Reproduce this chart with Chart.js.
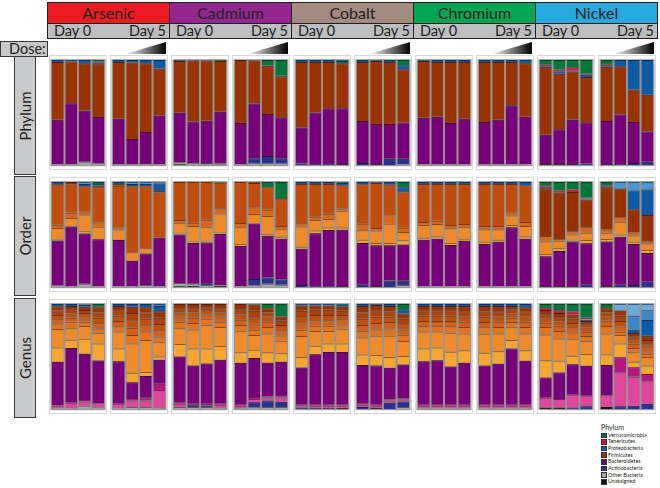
<!DOCTYPE html>
<html>
<head>
<meta charset="utf-8">
<script src="https://cdn.jsdelivr.net/npm/chart.js@4.4.0/dist/chart.umd.min.js"></script>
<style>
body { margin:0; background:#fff; width:660px; height:488px; overflow:hidden; position:relative; font-family: Lato, "Open Sans", sans-serif; color:#231f20; }
.abs { position:absolute; box-sizing:border-box; }
.metal { top:2px; height:22px; border:1px solid #231f20; text-align:center; font-size:16px; line-height:20px; }
.day { top:23px; height:16px; border:1px solid #231f20; background:#bcbec0; font-size:14.5px; line-height:14px; padding:0 3px 0 6px; }
.day span.r { float:right; }
.lab { background:#c8c9cb; border:1.5px solid #3a3a3a; }
.rot { position:absolute; left:50%; top:50%; transform:translate(-50%,-50%) rotate(-90deg); font-size:15px; white-space:nowrap; }
.panel { border:1px solid #d9d9d9; width:58px; height:115px; }
.panel canvas { position:absolute; left:0; top:0; }
.tri { top:42px; width:41px; height:12px; background:linear-gradient(to right,#ffffff,#000000); clip-path:polygon(0 100%,100% 0,100% 100%); }
.lgt { font-size:7px; line-height:8px; color:#231f20; white-space:nowrap; }
.lgs { width:5.5px; height:5.5px; border:0.6px solid #333; }
.lgx { font-size:5.4px; line-height:6.6px; height:6.6px; color:#231f20; white-space:nowrap; }
</style>
</head>
<body>
<script>
// ---- données (en %) ----
const metals = ['Arsenic', 'Cadmium', 'Cobalt', 'Chromium', 'Nickel'];
const metalColors = ['#ed1c24', '#92278f', '#a38b7f', '#00a651', '#27aae1'];
const days = ['Day 0', 'Day 5'];
const levels = ['Phylum', 'Order', 'Genus'];

// phylum, de bas en haut
const phylumTaxa = ['Unassigned', 'Other Bacteria', 'Actinobacteria', 'Bacteroidetes', 'Firmicutes', 'Proteobacteria', 'Tenericutes', 'Verrucomicrobia'];
const phylumColors = ['#141414', '#a7a7a7', '#2b3190', '#77007a', '#993300', '#0d5aa7', '#d6123e', '#00773a'];
// un bloc par panneau (As D0, As D5, Cd D0, ...), 4 échantillons chacun
const phylumValues = [
  [[0,1,0,42,55,2,0,0], [0,1,0,58,40,1.5,0,0], [0,3,0,49,45,3,0,0], [0,1.5,0,44,50,1.5,1,1.5]],
  [[0,1,0,43,54,2,0,0], [0,1,0,24,73,2.5,0,0], [0,1,0,30,65,3,0,0], [0,1,0,46,45,8,0,0]],
  [[0.7,2,0,47,49,1,0,0], [0,1.5,0,40,58,0.5,0,0], [0,1,1,40,57,0.5,0,0], [0.5,1,0,49,48,0,0,1]],
  [[0,1,0,39,60,0,0,0], [0,1.5,5,52,41,0.5,0,0], [0,1.5,7,40,46,0.5,0,5], [0,1.5,5,39,39,0.5,0,15]],
  [[0,0,1.5,34,62,2,0,0], [0,0,1,49,48,2,0,0], [0,0,1,53,44,2,0,0], [1,0,0,53,43,2,0,1]],
  [[0,0,2,40,56,2,0,0], [1,0,0,38,60,1,0,0], [0,0,6,33,59,2,0,0], [0,1,5,35,51,4,0,5]],
  [[0,1,0,44,54,1,0,0], [0,1,0,45,52,2,0,0], [0,1,0,39,58,2,0,0], [0,1,0,43,54,2,0,0]],
  [[0,1,0,40,57,2,0,0], [0,1,0,42,55,2,0,0], [0,1,0,56,41,2,0,0], [0,1,0,45,51,3,0,0]],
  [[1,0,0,28,65,1.5,1,4], [1,0,0,33,53,2,2,9], [1,0,0,42,46,1,3,7], [0,0,1.5,39,43,2,1,13]],
  [[1,0,0,41,52,1.5,1,4], [0,0,1,47,46,6,0,0], [0,0,2,39,31,28,0,0], [0,0,3,29,35,33,0,0]]
];

// ordre, de bas en haut
const orderTaxa = ['Unassigned', 'Other', 'Bifidobacteriales', 'Bacteroidales', 'Erysipelotrichales', 'Lactobacillales', 'Bacillales', 'Clostridiales', 'Clostridiales 2', 'Enterobacteriales', 'Burkholderiales', 'Mycoplasmatales', 'Verrucomicrobiales'];
const orderColors = ['#141414', '#a7a7a7', '#2b3190', '#77007a', '#f6a330', '#ef8a2a', '#d9661a', '#c04d0b', '#953200', '#0d5aa7', '#4d94d0', '#d6123e', '#00773a'];
const orderValues = [
  [[0,1.5,0,43,1,11,3,38,1,2,0,0,0], [0,1,0,57,0,8,5,27,2.5,0,0,0,0], [0,3,0,48,2,16,3,24,0,2,2,0,0], [0,1,0,45,0,12,4,34,1.5,1.5,0,0,2]],
  [[0,1,0,44,1,9,2,40,1.5,2,0,0,0], [0,1,0,24,0,8,0,63,0,2,2,0,0], [0,2,0,30,0,5,0,59,0,2,2,0,0], [0,1,0,46,0,0,0,43,1.5,7,1.5,0,0]],
  [[0.7,3,0,46,1.5,9,3,36,0,0,0,0,0], [1,2,0,39,1.5,15,3,39,0,0,0,0,0], [0,2,1.5,39,1.5,13,7,36,0,0,0,0,0], [1,1,0,48,1.5,18,5,24,0,0,0,0,0.7]],
  [[0,1,0,38,2,16,4,39,0,0,0,0,0], [0,1.5,6,52,0,9,6,23,1,0,0,0,0], [0,3,6,39,1.5,17,6,21,0,0,0,0,5], [0,2,5,38,2,7,3,25,1,0,0,0,15]],
  [[0,0,2,34,2,19,3,37,0,2,0,0,0], [0,0,1,50,2.5,10,3,31,0,2,0,0,0], [0,0,1,53,2.5,8,5,28,0,2,0,0,0], [1,0,0,53,2,16,2,22,0,2,0,0,1]],
  [[0,0,2,39,3,9,6,37,0,2,0,0,0], [1,0,0,39,2,12,2.5,43,0,1,0,0,0], [0,0,6,33,2,18,9,27,1,2,0,0,0], [0,2,4,35,4,8,4,34,1,4,0,0,5]],
  [[0,1,0,44,2,12,3,36,0,2,0,0,0], [0,1,0,45,2,12,3,35,0,2,0,0,0], [0,1,0,39,2,14,3,39,0,2,0,0,0], [0,1,0,43,2,11,3,38,0,2,0,0,0]],
  [[0,1,0,40,2,12,3,40,0,2,0,0,0], [0,1,0,42,2,10,3,40,0,2,0,0,0], [0,1,0,56,2,9,3,27,0,2,0,0,0], [0,1,0,45,2,10,4,35,0,3,0,0,0]],
  [[1,0,0,28,2,12,5,0,45,1.5,0,1.5,3], [1,0,0,33,2.5,7,1.5,0,44,0,0,2,8], [1,0,0,42,1.5,5,3,0,37,0,0,2.5,7], [0,0,2,39,3,7,5,0,26,0,2,0.5,14]],
  [[1,0,0,42,2.5,6,3,0,40,1,0,1,3], [0,0,2,45,2,12,4,0,27,0,6,0,0], [0,0,2,39,2,6,3,0,22,18,8,0,0], [0,0,5,27,3,6,2,0,25,24,7,0,0]]
];

// genre, de bas en haut
const genusTaxa = ['Unassigned', 'Other', 'Bifidobacterium', 'Parabacteroides', 'Alistipes', 'Bacteroides', 'Turicibacter', 'Lactobacillus', 'Streptococcus', 'Clostridium', 'Ruminococcus', 'Oscillospira', 'Coprococcus', 'Escherichia', 'Sutterella', 'Parasutterella', 'Mycoplasma', 'Akkermansia'];
const genusColors = ['#141414', '#a7a7a7', '#2b3190', '#de479b', '#b3177f', '#77007a', '#f8a631', '#ef8b2a', '#e2731f', '#d2601a', '#c2500d', '#ad4108', '#963302', '#0d5aa7', '#3c87c7', '#6eaada', '#d6123e', '#00773a'];
const genusValues = [
  [[0,1,0,2,0.5,40,13,17,5,4,4,4,4,2,0,0,0,0], [0,1,0,5,0,52,8,11,6,4,4,4,3,2,0,0,0,0], [0,3,0,4,1.5,43,14,12,4,4,4,3,3,1.5,1,0,0,0], [0,1.5,0,4,0,40,16,10,4,5,5,5,5,1,0,0,0,2]],
  [[0,1,0,4,0,40,12,16,5,5,5,5,4,2,0,0,0,0], [0,2,0,6,2.5,15,9,28,8,7,7,7,6,2.5,0,0,0,0], [0,2,0,6,3,20,4,30,8,6,6,6,5,3,0,0,0,0], [0,1,0,17,6,23,3,14,5,6,6,6,6,5,2,0,0,0]],
  [[0,2,0,3,1,44,12,15,6,5,4,4,4,0,0,0,0,0], [0,2,1.5,0,1.5,36,16,18,6,5,5,4,4,0,0,0,0,0], [0,2,1,0,2,38,14,22,6,4,4,3,3,0,0,0,0,0], [0,1,0,3,1,42,13,18,5,5,4,4,4,0,0,0,0,0]],
  [[0,1,0,2,1,40,10,20,6,5,5,5,5,0,0,0,0,0], [0,1.5,5,3,1,38,8,14,5,6,6,6,6,0,0,0,0,0.5], [0,2,6,3,1,32,10,18,6,5,5,4,4,0,0,0,0,4], [0,2,5,4,1,33,8,12,5,5,5,4,4,0,0,0,0,12]],
  [[0,0,1.5,2,1,35,10,20,6,6,6,6,5,1.5,0,0,0,0], [0,0,1,2,1,48,8,14,5,5,5,5,4,1.5,0,0,0,0], [0,0,1,2,1,50,8,12,5,5,5,5,4,1.5,0,0,0,0], [1,0,0,2,1,50,8,14,4,5,4,4,4,1.5,0,0,0,1]],
  [[0,0,2,2,1,37,10,16,6,6,6,6,6,2,0,0,0,0], [1,0,0,2,1,37,10,18,6,6,6,6,5,1,0,0,0,0], [0,0,6,2,1,30,10,20,7,6,5,5,5,2,0,0,0,0], [0,2,5,2,1,32,8,14,6,5,5,5,5,4,0,0,0,5]],
  [[0,1,0,2,1,41,12,16,5,5,5,5,4,2,0,0,0,0], [0,1,0,2,1,42,12,15,5,5,5,5,4,2,0,0,0,0], [0,1,0,2,1,36,14,18,6,5,5,5,4,2,0,0,0,0], [0,1,0,2,1,40,12,16,6,5,5,5,5,2,0,0,0,0]],
  [[0,1,0,2,1,37,12,18,6,5,5,5,5,2,0,0,0,0], [0,1,0,2,1,39,12,17,6,5,5,5,5,2,0,0,0,0], [0,1,0,2,1,53,8,12,5,4,4,4,3,2,0,0,0,0], [0,1,0,2,1,42,10,16,6,5,5,5,4,3,0,0,0,0]],
  [[1.5,0,0,9,0,19,16,24,7,4,4,4,4,0,0,0,1.5,4], [1.5,0,0,8,0,25,11,21,7,5,4,4,4,0,0,0,2.5,6], [0,0,1.5,12,0,29,8,16,6,5,4,4,4,0,0,0,3,7], [0,0,2.5,10,0,28,11,12,5,4,4,3,3,1,0,1,1,13]],
  [[2,0,0,11,0,29,10,20,7,5,4,4,4,0,0,0,0,4], [0,0,2.5,32,14,0,13,8,3,5,5,5,5,0,0,6,0,0], [0,0,3,27,9,0,5,9,4,4,4,3,3,3,13,11,0,0], [0,0,5,21,7,0,8,8,3,5,4,4,4,15,9,6,0,0]]
];

const legendTaxa = phylumTaxa.slice().reverse();
const legendColors = phylumColors.slice().reverse();

// ---- mise en page ----
const rowTops = [55, 177, 299];
const labelBoxes = [[56, 119], [176, 120], [298, 120]];

function el(cls, style, html) {
  const d = document.createElement('div');
  d.className = 'abs ' + cls;
  Object.assign(d.style, style);
  if (html) d.innerHTML = html;
  document.body.appendChild(d);
  return d;
}

function darken(hex, f) {
  const n = parseInt(hex.slice(1), 16);
  const r = Math.round(((n >> 16) & 255) * f), g = Math.round(((n >> 8) & 255) * f), b = Math.round((n & 255) * f);
  return 'rgb(' + r + ',' + g + ',' + b + ')';
}

function norm(bar) {
  const s = bar.reduce((a, b) => a + b, 0);
  return bar.map(v => v * 100 / s);
}

// fond gris derrière chaque colonne
const barFrame = {
  id: 'barFrame',
  beforeDatasetsDraw(chart) {
    const ctx = chart.ctx;
    const y = chart.scales.y;
    const top = y.getPixelForValue(100), bottom = y.getPixelForValue(0);
    ctx.save();
    ctx.fillStyle = '#969696';
    chart.getDatasetMeta(0).data.forEach(bar => {
      ctx.fillRect(bar.x - bar.width / 2 - 1.3, top - 0.8, bar.width + 2.6, bottom - top + 2);
    });
    ctx.restore();
  }
};

function drawPanel(canvas, bars, names, colors) {
  const rows = bars.map(norm);
  const datasets = names.map((name, t) => ({
    label: name,
    data: rows.map(r => r[t]),
    backgroundColor: colors[t],
    borderColor: darken(colors[t], 0.55),
    borderWidth: { top: 1, bottom: 0, left: 0, right: 0 },
    borderSkipped: false,
    barPercentage: 0.88,
    categoryPercentage: 1
  }));
  new Chart(canvas, {
    type: 'bar',
    data: { labels: ['1', '2', '3', '4'], datasets: datasets },
    options: {
      responsive: false,
      animation: false,
      events: [],
      layout: { padding: { top: 4, bottom: 4, left: 1, right: 1 } },
      plugins: { legend: { display: false }, tooltip: { enabled: false } },
      scales: {
        x: { stacked: true, display: false },
        y: { stacked: true, display: false, min: 0, max: 100 }
      }
    },
    plugins: [barFrame]
  });
}

// en-têtes
metals.forEach((m, i) => {
  const x = 47 + i * 122;
  el('metal', { left: x + 'px', width: '123px', background: metalColors[i] }, m);
  el('day', { left: x + 'px', width: '123px' }, days[0] + '<span class="r">' + days[1] + '</span>');
  el('tri', { left: (125 + i * 122) + 'px' });
});

el('lab', { left: '0px', top: '41px', width: '48px', height: '16px', fontSize: '14.5px', lineHeight: '13px', paddingLeft: '8px' }, 'Dose:');

levels.forEach((lv, r) => {
  el('lab', { left: '14px', top: labelBoxes[r][0] + 'px', width: '22px', height: labelBoxes[r][1] + 'px' }, '<span class="rot">' + lv + '</span>');
});

// panneaux
const allValues = [phylumValues, orderValues, genusValues];
const allTaxa = [phylumTaxa, orderTaxa, genusTaxa];
const allColors = [phylumColors, orderColors, genusColors];

levels.forEach((lv, r) => {
  for (let p = 0; p < 10; p++) {
    const m = Math.floor(p / 2), d = p % 2;
    const box = el('panel', { left: (49 + m * 122 + d * 61) + 'px', top: rowTops[r] + 'px' });
    const c = document.createElement('canvas');
    c.width = 56; c.height = 113;
    c.style.width = '56px'; c.style.height = '113px';
    box.appendChild(c);
    drawPanel(c, allValues[r][p], allTaxa[r], allColors[r]);
  }
});

// légende
el('lgt', { left: '601px', top: '423px' }, 'Phylum');
legendTaxa.forEach((t, i) => {
  const y = 432.5 + i * 6.65;
  el('lgs', { left: '601px', top: y + 'px', background: legendColors[i] });
  el('lgx', { left: '608px', top: (y - 0.8) + 'px' }, t);
});
</script>
</body>
</html>
